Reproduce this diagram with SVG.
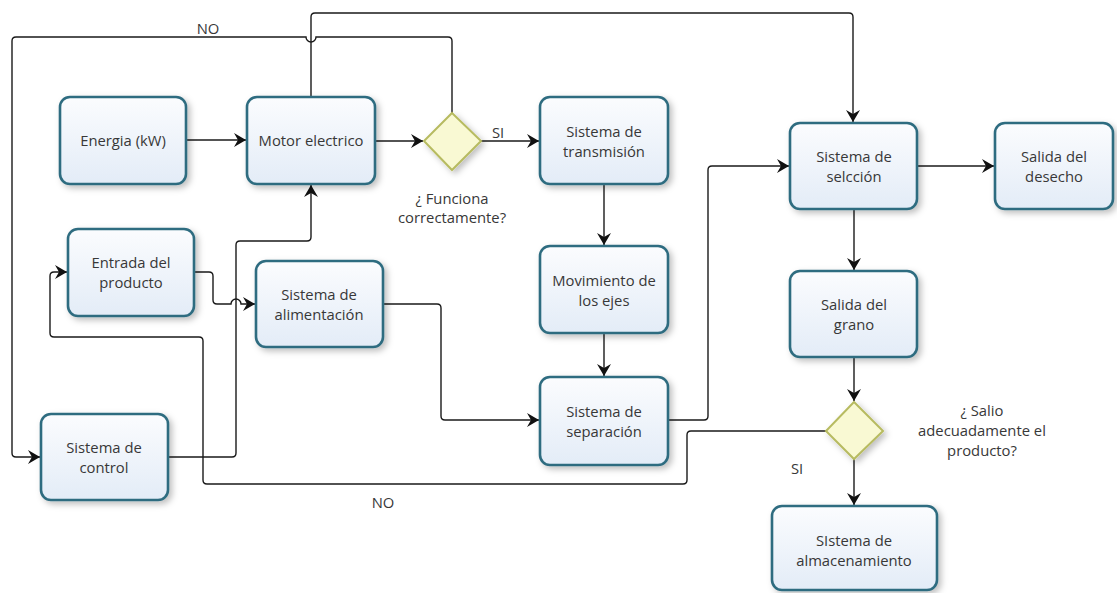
<svg xmlns="http://www.w3.org/2000/svg" width="1117" height="593" viewBox="0 0 1117 593">
<style>
.box{fill:url(#bg);stroke:#2e6c80;stroke-width:2.6;filter:url(#sh)}
.dia{fill:#f9f9d3;stroke:#b7bb60;stroke-width:2;filter:url(#sh)}
.t{font-family:"Open Sans","Liberation Sans",sans-serif;font-size:14.8px;fill:#383838;text-anchor:middle;dominant-baseline:central}
.c{fill:none;stroke:#1a1a1a;stroke-width:1.4;marker-end:url(#ar)}
</style>
<defs>
<linearGradient id="bg" x1="0" y1="0" x2="0" y2="1">
<stop offset="0" stop-color="#fbfcfe"/>
<stop offset="1" stop-color="#e3ecf7"/>
</linearGradient>
<filter id="sh" x="-20%" y="-20%" width="150%" height="150%">
<feDropShadow dx="3" dy="3" stdDeviation="3" flood-color="#000" flood-opacity="0.25"/>
</filter>
<marker id="ar" markerUnits="userSpaceOnUse" markerWidth="14" markerHeight="14" refX="12" refY="7" orient="auto">
<path d="M0 0 L12 7 L0 14 L4 7 Z" fill="#111"/>
</marker>
</defs>
<rect width="1117" height="593" fill="#fff"/>

<g id="connectors">
<path class="c" d="M186 140 H246"/>
<path class="c" d="M375 141 H423"/>
<path class="c" d="M481 141 H539"/>
<path class="c" d="M452 113 V41 Q452 37 448 37 H316 A5 5 0 0 1 306 37 H16 Q12 37 12 41 V453 Q12 457 16 457 H40"/>
<path class="c" d="M311 97 V17 Q311 13 315 13 H849 Q853 13 853 17 V122"/>
<path class="c" d="M604 184 V245"/>
<path class="c" d="M604 333 V376"/>
<path class="c" d="M668 420 H704 Q708 420 708 416 V170 Q708 166 712 166 H789"/>
<path class="c" d="M917 166 H994"/>
<path class="c" d="M854 209 V270"/>
<path class="c" d="M854 357 V401"/>
<path class="c" d="M854 459 V505"/>
<path class="c" d="M826 431 H691 Q687 431 687 435 V480 Q687 484 683 484 H207 Q203 484 203 480 V341 Q203 337 199 337 H54 Q50 337 50 333 V276 Q50 272 54 272 H67"/>
<path class="c" d="M383 304 H437 Q441 304 441 308 V416 Q441 420 445 420 H539"/>
<path class="c" d="M194 272 H209 Q213 272 213 276 V300 Q213 304 217 304 H231 A5 5 0 0 1 241 304 H255"/>
<path class="c" d="M168 457 H232 Q236 457 236 453 V245 Q236 241 240 241 H307 Q311 241 311 237 V185"/>
<text class="t" x="208" y="28">NO</text>
<text class="t" x="498" y="132">SI</text>
<text class="t" x="797" y="468">SI</text>
<text class="t" x="383" y="502">NO</text>
</g>

<g id="energia"><rect class="box" x="60" y="97" width="126" height="87" rx="10"/><text class="t" x="123" y="140">Energia (kW)</text></g>
<g id="motor"><rect class="box" x="247" y="97" width="128" height="87" rx="10"/><text class="t" x="311" y="140">Motor electrico</text></g>
<g id="funciona"><path class="dia" d="M452 113 L481 141 L452 170 L424 141 Z"/><text class="t" x="452" y="198">¿ Funciona</text><text class="t" x="452" y="217">correctamente?</text></g>
<g id="transmision"><rect class="box" x="540" y="97" width="128" height="87" rx="10"/><text class="t" x="604" y="131">Sistema de</text><text class="t" x="604" y="151">transmisión</text></g>
<g id="ejes"><rect class="box" x="540" y="246" width="128" height="87" rx="10"/><text class="t" x="604" y="280">Movimiento de</text><text class="t" x="604" y="300">los ejes</text></g>
<g id="separacion"><rect class="box" x="540" y="377" width="128" height="88" rx="10"/><text class="t" x="604" y="411">Sistema de</text><text class="t" x="604" y="431">separación</text></g>
<g id="entrada"><rect class="box" x="68" y="229" width="126" height="87" rx="10"/><text class="t" x="131" y="262">Entrada del</text><text class="t" x="131" y="282">producto</text></g>
<g id="alimentacion"><rect class="box" x="256" y="261" width="127" height="86" rx="10"/><text class="t" x="319" y="294">Sistema de</text><text class="t" x="319" y="314">alimentación</text></g>
<g id="control"><rect class="box" x="41" y="414" width="127" height="86" rx="10"/><text class="t" x="104" y="447">Sistema de</text><text class="t" x="104" y="467">control</text></g>
<g id="seleccion"><rect class="box" x="790" y="123" width="127" height="86" rx="10"/><text class="t" x="854" y="156">Sistema de</text><text class="t" x="854" y="176">selcción</text></g>
<g id="desecho"><rect class="box" x="995" y="123" width="118" height="86" rx="10"/><text class="t" x="1054" y="156">Salida del</text><text class="t" x="1054" y="176">desecho</text></g>
<g id="grano"><rect class="box" x="790" y="271" width="127" height="86" rx="10"/><text class="t" x="854" y="304">Salida del</text><text class="t" x="854" y="324">grano</text></g>
<g id="salio"><path class="dia" d="M854 402 L883 431 L854 459 L826 431 Z"/><text class="t" x="982" y="410">¿ Salio</text><text class="t" x="982" y="430">adecuadamente el</text><text class="t" x="982" y="450">producto?</text></g>
<g id="almacenamiento"><rect class="box" x="772" y="506" width="165" height="84" rx="10"/><text class="t" x="854" y="540">SIstema de</text><text class="t" x="854" y="560">almacenamiento</text></g>
</svg>
